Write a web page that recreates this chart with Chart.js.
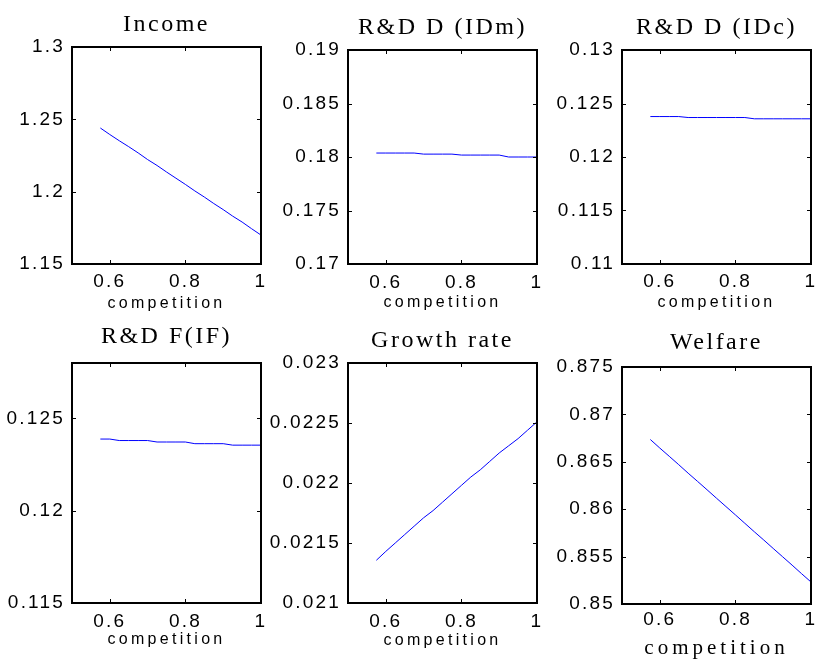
<!DOCTYPE html>
<html>
<head>
<meta charset="utf-8">
<title>Competition panels</title>
<script src="https://cdn.jsdelivr.net/npm/chart.js@4.4.1/dist/chart.umd.min.js"></script>
<style>
  html, body { margin: 0; padding: 0; width: 815px; height: 662px; overflow: hidden; background: #fff; }
  canvas { position: absolute; }
</style>
</head>
<body>
<script>
// x values (competition) shared by all six panels
const competition = [0.575, 0.6, 0.625, 0.65, 0.675, 0.7, 0.725, 0.75, 0.775, 0.8,
                     0.825, 0.85, 0.875, 0.9, 0.925, 0.95, 0.975, 1.0];

const income = [1.2440, 1.2395, 1.2352, 1.2311, 1.2268, 1.2222, 1.2181, 1.2136, 1.2093, 1.2050,
                1.2005, 1.1963, 1.1918, 1.1876, 1.1831, 1.1790, 1.1744, 1.1700];
const rdIDm = [0.18037, 0.18037, 0.18037, 0.18037, 0.18037, 0.18027, 0.18027, 0.18027, 0.18027, 0.18018,
               0.18018, 0.18018, 0.18018, 0.18018, 0.18000, 0.18000, 0.18000, 0.18000];
const rdIDc = [0.12378, 0.12378, 0.12378, 0.12378, 0.12369, 0.12369, 0.12369, 0.12369, 0.12369, 0.12369,
               0.12369, 0.12357, 0.12357, 0.12357, 0.12357, 0.12357, 0.12357, 0.12357];
const rdIF = [0.12388, 0.12388, 0.12380, 0.12380, 0.12380, 0.12380, 0.12372, 0.12372, 0.12372, 0.12372,
              0.12363, 0.12363, 0.12363, 0.12363, 0.12355, 0.12355, 0.12355, 0.12355];
const growth = [0.021356, 0.02143, 0.02150, 0.02157, 0.02164, 0.02171, 0.02177, 0.02184, 0.02191, 0.02198,
                0.02205, 0.02211, 0.02218, 0.02225, 0.02231, 0.02237, 0.02244, 0.02251];
const welfare = [0.86735, 0.86645, 0.86558, 0.86470, 0.86380, 0.86293, 0.86205, 0.86116, 0.86028, 0.85940,
                 0.85851, 0.85762, 0.85675, 0.85586, 0.85498, 0.85410, 0.85320, 0.85232];

// tick labels
const xTicks = [0.6, 0.8, 1];
const incomeTicks = [1.15, 1.2, 1.25, 1.3];
const idmTicks = [0.17, 0.175, 0.18, 0.185, 0.19];
const idcTicks = [0.11, 0.115, 0.12, 0.125, 0.13];
const ifTicks = [0.115, 0.12, 0.125];
const growthTicks = [0.021, 0.0215, 0.022, 0.0225, 0.023];
const welfareTicks = [0.85, 0.855, 0.86, 0.865, 0.87, 0.875];

// axis ranges
const xRange = [0.5, 1];
const incomeRange = [1.15, 1.3];
const idmRange = [0.17, 0.19];
const idcRange = [0.11, 0.13];
const ifRange = [0.115, 0.128];
const growthRange = [0.021, 0.023];
const welfareRange = [0.85, 0.875];

// letter spacing per font size (old MATLAB export look)
const letterSpacing = { 19: 2.2, 16: 3.3, 24: 2.5, 21: 4 };

function spaceText(ctx) {
    const fill = ctx.fillText.bind(ctx);
    const measure = ctx.measureText.bind(ctx);
    const setSpacing = () => {
        const m = ctx.font.match(/([\d.]+)px/);
        const size = m ? parseFloat(m[1]) : 0;
        ctx.letterSpacing = (letterSpacing[size] || 0) + 'px';
    };
    ctx.fillText = (...a) => { setSpacing(); fill(...a); };
    ctx.measureText = (...a) => { setSpacing(); return measure(...a); };
}

// box round the plot with inward tick marks
const boxPlugin = {
    id: 'matlabBox',
    afterDraw(chart) {
        const { ctx, chartArea: a, scales: { x, y } } = chart;
        ctx.save();
        ctx.strokeStyle = '#000';
        ctx.lineWidth = 1;
        ctx.beginPath();
        x.ticks.forEach(t => {
            const px = Math.round(x.getPixelForValue(t.value)) + 0.5;
            ctx.moveTo(px, a.top); ctx.lineTo(px, a.top + 4);
            ctx.moveTo(px, a.bottom); ctx.lineTo(px, a.bottom - 4);
        });
        y.ticks.forEach(t => {
            const py = Math.round(y.getPixelForValue(t.value)) + 0.5;
            ctx.moveTo(a.left, py); ctx.lineTo(a.left + 4, py);
            ctx.moveTo(a.right, py); ctx.lineTo(a.right - 4, py);
        });
        ctx.stroke();
        ctx.lineWidth = 2;
        ctx.strokeRect(a.left, a.top, a.right - a.left, a.bottom - a.top);
        ctx.restore();
    }
};

const panels = [
    { title: 'Income', values: income, ticks: incomeTicks, range: incomeRange,
      box: [72, 47, 261, 264], cellTop: 0, cellH: 320, titleY: 25, tickY: 282, xTitleY: 304, serifX: false },
    { title: 'R&D D (IDm)', values: rdIDm, ticks: idmTicks, range: idmRange,
      box: [348, 50, 537, 264], cellTop: 0, cellH: 320, titleY: 28, tickY: 283, xTitleY: 303, serifX: false },
    { title: 'R&D D (IDc)', values: rdIDc, ticks: idcTicks, range: idcRange,
      box: [622, 50, 811, 264], cellTop: 0, cellH: 320, titleY: 28, tickY: 282, xTitleY: 303, serifX: false },
    { title: 'R&D F(IF)', values: rdIF, ticks: ifTicks, range: ifRange,
      box: [72, 363, 261, 603], cellTop: 320, cellH: 342, titleY: 337, tickY: 621.7, xTitleY: 640, serifX: false },
    { title: 'Growth rate', values: growth, ticks: growthTicks, range: growthRange,
      box: [348, 363, 537, 603], cellTop: 320, cellH: 342, titleY: 341, tickY: 621.7, xTitleY: 641, serifX: false },
    { title: 'Welfare', values: welfare, ticks: welfareTicks, range: welfareRange,
      box: [622, 367, 811, 604], cellTop: 320, cellH: 342, titleY: 343, tickY: 620, xTitleY: 648, serifX: true }
];

const sans = 'Liberation Sans, Arial, sans-serif';
const serif = 'Liberation Serif, Times New Roman, serif';
const yAxisWidth = 80;
const rightPad = 15;

panels.forEach(p => {
    const [l, t, r, b] = p.box;
    const left = l - yAxisWidth;
    const width = r + rightPad - left;
    const canvas = document.createElement('canvas');
    canvas.width = width;
    canvas.height = p.cellH;
    canvas.style.left = left + 'px';
    canvas.style.top = p.cellTop + 'px';
    canvas.style.width = width + 'px';
    canvas.style.height = p.cellH + 'px';
    document.body.appendChild(canvas);
    const ctx = canvas.getContext('2d');
    spaceText(ctx);

    const titleHalf = 24 * 1.2 / 2;
    const tickHalf = 19 * 1.2 / 2;
    const xTitleFont = p.serifX ? { family: serif, size: 21 } : { family: sans, size: 16 };
    const xTitleHalf = xTitleFont.size * 1.2 / 2;
    const cellBottom = p.cellTop + p.cellH;

    new Chart(ctx, {
        type: 'line',
        data: {
            datasets: [{
                data: competition.map((x, i) => ({ x: x, y: p.values[i] })),
                borderColor: '#0000ff',
                borderWidth: 1,
                pointRadius: 0,
                tension: 0,
                fill: false
            }]
        },
        options: {
            responsive: false,
            animation: false,
            events: [],
            layout: {
                padding: { left: 0, right: rightPad, top: p.titleY - titleHalf - p.cellTop, bottom: 0 }
            },
            plugins: {
                legend: { display: false },
                tooltip: { enabled: false },
                title: {
                    display: true,
                    text: p.title,
                    fullSize: false,
                    color: '#000',
                    font: { family: serif, size: 24, weight: 'normal' },
                    padding: { top: 0, bottom: t - p.titleY - titleHalf }
                }
            },
            scales: {
                x: {
                    type: 'linear',
                    min: xRange[0],
                    max: xRange[1],
                    grid: { display: false, drawTicks: false },
                    border: { display: false },
                    ticks: {
                        color: '#000',
                        font: { family: sans, size: 19 },
                        padding: p.tickY - b - tickHalf,
                        maxRotation: 0,
                        callback: v => String(v)
                    },
                    afterBuildTicks: s => { s.ticks = xTicks.map(v => ({ value: v })); },
                    afterFit: s => { s.height = cellBottom - b; },
                    title: {
                        display: true,
                        text: 'competition',
                        color: '#000',
                        font: xTitleFont,
                        padding: { top: 0, bottom: cellBottom - p.xTitleY - xTitleHalf }
                    }
                },
                y: {
                    type: 'linear',
                    min: p.range[0],
                    max: p.range[1],
                    grid: { display: false, drawTicks: false },
                    border: { display: false },
                    ticks: {
                        color: '#000',
                        font: { family: sans, size: 19 },
                        padding: 7,
                        callback: v => String(v)
                    },
                    afterBuildTicks: s => { s.ticks = p.ticks.map(v => ({ value: v })); },
                    afterFit: s => { s.width = yAxisWidth; }
                }
            }
        },
        plugins: [boxPlugin]
    });
});
</script>
</body>
</html>
